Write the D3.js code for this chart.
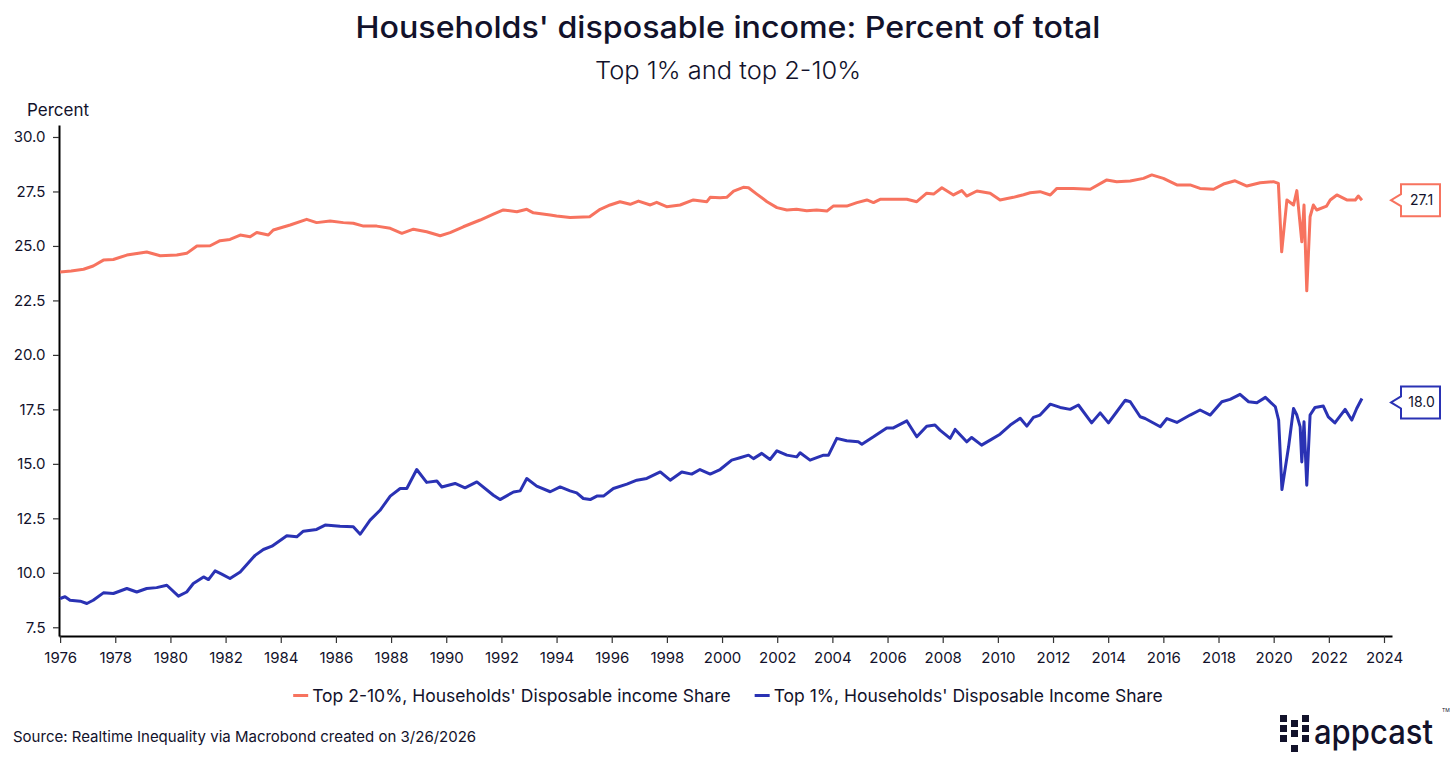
<!DOCTYPE html>
<html>
<head>
<meta charset="utf-8">
<script src="https://cdn.jsdelivr.net/npm/d3@7"></script>
<style>
  body { margin: 0; background: #fff; }
  svg { display: block; font-family: Inter, "Noto Sans", sans-serif; }
</style>
</head>
<body>
<div id="chart"></div>
<script>
// Top 2-10% share (decimal year, percent)
var top10Years = [1976.0, 1976.4, 1976.85, 1977.2, 1977.57, 1977.93, 1978.42, 1979.14, 1979.63, 1980.23,
  1980.59, 1980.96, 1981.44, 1981.8, 1982.16, 1982.53, 1982.89, 1983.13, 1983.55, 1983.73,
  1984.34, 1984.94, 1985.3, 1985.79, 1986.27, 1986.63, 1987.0, 1987.48, 1987.97, 1988.39,
  1988.81, 1989.29, 1989.78, 1990.14, 1990.62, 1991.23, 1991.71, 1992.07, 1992.56, 1992.92,
  1993.16, 1993.77, 1994.0, 1994.49, 1995.2, 1995.58, 1995.94, 1996.3, 1996.67, 1996.97,
  1997.4, 1997.63, 1997.99, 1998.48, 1998.96, 1999.45, 1999.57, 1999.93, 2000.17, 2000.42,
  2000.77, 2000.96, 2001.26, 2001.63, 2001.99, 2002.35, 2002.7, 2003.07, 2003.43, 2003.8,
  2004.03, 2004.52, 2004.89, 2005.25, 2005.49, 2005.73, 2006.21, 2006.7, 2007.06, 2007.42,
  2007.67, 2007.97, 2008.39, 2008.69, 2008.87, 2009.24, 2009.72, 2010.08, 2010.56, 2010.93,
  2011.17, 2011.53, 2011.9, 2012.14, 2012.74, 2013.35, 2013.95, 2014.31, 2014.8, 2015.28,
  2015.58, 2016.0, 2016.49, 2016.97, 2017.33, 2017.82, 2018.18, 2018.6, 2019.03, 2019.51,
  2019.99, 2020.17, 2020.29, 2020.48, 2020.72, 2020.84, 2021.02, 2021.1, 2021.2, 2021.32,
  2021.44, 2021.56, 2021.92, 2022.05, 2022.29, 2022.65, 2022.96, 2023.07, 2023.2];
var top10Share = [23.8, 23.85, 23.93, 24.08, 24.35, 24.38, 24.58, 24.72, 24.55, 24.58,
  24.66, 25.0, 25.01, 25.24, 25.3, 25.5, 25.42, 25.62, 25.5, 25.73,
  25.96, 26.22, 26.07, 26.14, 26.07, 26.04, 25.91, 25.91, 25.81, 25.58,
  25.77, 25.65, 25.47, 25.61, 25.88, 26.19, 26.46, 26.65, 26.57, 26.68,
  26.52, 26.42, 26.37, 26.3, 26.34, 26.68, 26.88, 27.03, 26.91, 27.06,
  26.88, 27.0, 26.8, 26.88, 27.11, 27.03, 27.23, 27.21, 27.23, 27.52,
  27.69, 27.67, 27.38, 27.03, 26.76, 26.65, 26.68, 26.62, 26.65, 26.6,
  26.83, 26.83, 26.99, 27.11, 26.99, 27.14, 27.14, 27.14, 27.03, 27.42,
  27.38, 27.67, 27.34, 27.54, 27.29, 27.52, 27.42, 27.11, 27.23, 27.35,
  27.44, 27.49, 27.34, 27.64, 27.64, 27.6, 28.03, 27.95, 27.98, 28.1,
  28.26, 28.1, 27.8, 27.8, 27.64, 27.6, 27.84, 27.99, 27.75, 27.9,
  27.95, 27.87, 24.73, 27.11, 26.88, 27.54, 25.19, 26.88, 22.94, 26.34,
  26.88, 26.65, 26.83, 27.11, 27.34, 27.11, 27.11, 27.29, 27.1];

// Top 1% share
var top1Years = [1976.0, 1976.18, 1976.36, 1976.73, 1976.97, 1977.2, 1977.57, 1977.93, 1978.42, 1978.78,
  1979.14, 1979.5, 1979.87, 1980.29, 1980.59, 1980.83, 1981.2, 1981.38, 1981.62, 1981.86,
  1982.16, 1982.53, 1983.07, 1983.37, 1983.68, 1984.22, 1984.58, 1984.82, 1985.3, 1985.61,
  1986.15, 1986.63, 1986.88, 1987.24, 1987.6, 1987.97, 1988.33, 1988.57, 1988.93, 1989.29,
  1989.66, 1989.84, 1990.32, 1990.68, 1991.11, 1991.71, 1991.95, 1992.44, 1992.68, 1992.92,
  1993.28, 1993.77, 1994.13, 1994.49, 1994.73, 1994.97, 1995.22, 1995.46, 1995.7, 1996.06,
  1996.55, 1996.91, 1997.27, 1997.76, 1998.12, 1998.54, 1998.9, 1999.2, 1999.57, 1999.93,
  2000.35, 2000.65, 2000.96, 2001.14, 2001.44, 2001.74, 2001.99, 2002.35, 2002.71, 2002.83,
  2003.19, 2003.68, 2003.86, 2004.16, 2004.52, 2004.94, 2005.07, 2005.49, 2005.97, 2006.21,
  2006.7, 2007.06, 2007.42, 2007.72, 2007.9, 2008.27, 2008.45, 2008.87, 2009.05, 2009.41,
  2009.72, 2010.08, 2010.45, 2010.81, 2011.05, 2011.29, 2011.53, 2011.9, 2012.26, 2012.62,
  2012.92, 2013.4, 2013.71, 2014.01, 2014.31, 2014.62, 2014.8, 2015.16, 2015.34, 2015.89,
  2016.13, 2016.49, 2016.97, 2017.33, 2017.7, 2018.12, 2018.42, 2018.78, 2019.09, 2019.39,
  2019.7, 2020.06, 2020.18, 2020.3, 2020.54, 2020.72, 2020.84, 2020.96, 2021.02, 2021.1,
  2021.2, 2021.32, 2021.5, 2021.8, 2021.98, 2022.22, 2022.59, 2022.83, 2023.01, 2023.2];
var top1Share = [8.82, 8.9, 8.74, 8.7, 8.59, 8.74, 9.08, 9.05, 9.28, 9.12,
  9.28, 9.32, 9.43, 8.93, 9.12, 9.51, 9.81, 9.69, 10.09, 9.94,
  9.74, 10.04, 10.8, 11.07, 11.22, 11.7, 11.65, 11.91, 11.99, 12.19,
  12.14, 12.11, 11.77, 12.42, 12.87, 13.52, 13.87, 13.87, 14.74, 14.15,
  14.21, 13.94, 14.1, 13.9, 14.17, 13.56, 13.36, 13.71, 13.76, 14.33,
  13.98, 13.72, 13.94, 13.76, 13.67, 13.41, 13.36, 13.52, 13.52, 13.87,
  14.07, 14.25, 14.33, 14.63, 14.25, 14.63, 14.53, 14.74, 14.53, 14.74,
  15.17, 15.28, 15.4, 15.24, 15.48, 15.2, 15.6, 15.4, 15.32, 15.51,
  15.17, 15.4, 15.4, 16.17, 16.06, 16.01, 15.9, 16.24, 16.65, 16.65,
  16.97, 16.24, 16.73, 16.78, 16.55, 16.17, 16.58, 16.01, 16.21, 15.86,
  16.09, 16.36, 16.78, 17.09, 16.73, 17.13, 17.24, 17.74, 17.59, 17.5,
  17.7, 16.88, 17.34, 16.88, 17.39, 17.92, 17.85, 17.16, 17.08, 16.7,
  17.08, 16.9, 17.24, 17.47, 17.24, 17.85, 17.96, 18.19, 17.85, 17.8,
  18.05, 17.62, 17.01, 13.82, 15.78, 17.54, 17.24, 16.7, 15.09, 16.93,
  14.02, 17.24, 17.59, 17.65, 17.16, 16.88, 17.5, 17.01, 17.54, 18.0];

var yearTicks = d3.range(1976, 2025, 2);
var percentTicks = d3.range(7.5, 30.01, 2.5);
var seriesNames = ["Top 2-10%, Households' Disposable income Share", "Top 1%, Households' Disposable Income Share"];
var seriesColors = ["#F7735F", "#2A32B4"];

var width = 1456, height = 761;
var ink = "#12122b";

var svg = d3.select("#chart").append("svg")
  .attr("width", width)
  .attr("height", height);

var x = d3.scaleLinear().domain([1975.96, 2024.29]).range([59, 1392]);
var y = d3.scaleLinear().domain([7.1, 30.55]).range([636, 125]);

// titles
svg.append("text")
  .attr("x", 728).attr("y", 38)
  .attr("text-anchor", "middle")
  .attr("textLength", 745).attr("lengthAdjust", "spacingAndGlyphs")
  .style("font-size", "30px").style("font-weight", 500)
  .style("fill", ink)
  .text("Households' disposable income: Percent of total");

svg.append("text")
  .attr("x", 728).attr("y", 79)
  .attr("text-anchor", "middle")
  .attr("textLength", 266).attr("lengthAdjust", "spacingAndGlyphs")
  .style("font-size", "24px").style("font-weight", 300)
  .style("fill", ink)
  .text("Top 1% and top 2-10%");

svg.append("text")
  .attr("x", 27).attr("y", 116)
  .style("font-size", "17px")
  .style("fill", ink)
  .text("Percent");

// axes
var xAxis = svg.append("g")
  .attr("transform", "translate(0,636)")
  .call(d3.axisBottom(x).tickValues(yearTicks).tickFormat(d3.format("d")).tickSize(7).tickSizeOuter(0));
var yAxis = svg.append("g")
  .attr("transform", "translate(59,0)")
  .call(d3.axisLeft(y).tickValues(percentTicks).tickFormat(d3.format(".1f")).tickSize(6).tickSizeOuter(0));

[xAxis, yAxis].forEach(function(a) {
  a.select(".domain").attr("stroke", "#000").attr("stroke-width", 2);
  a.selectAll(".tick line").attr("stroke", "#333").attr("stroke-width", 1.2);
  a.selectAll(".tick text")
    .style("font-family", "Inter, sans-serif")
    .style("font-size", "15px")
    .style("fill", ink);
});
xAxis.selectAll(".tick text").attr("dy", "1.15em");
yAxis.selectAll(".tick text").attr("dx", "-0.3em");

// lines
var line = d3.line()
  .x(function(d) { return x(d[0]); })
  .y(function(d) { return y(d[1]); });

var series = [
  d3.zip(top10Years, top10Share),
  d3.zip(top1Years, top1Share)
];

series.forEach(function(s, i) {
  svg.append("path")
    .datum(s)
    .attr("fill", "none")
    .attr("stroke", seriesColors[i])
    .attr("stroke-width", 3)
    .attr("stroke-linejoin", "round")
    .attr("d", line);

  // end value callout
  var last = s[s.length - 1];
  var cy = y(last[1]) + (i == 1 ? 4 : 0);
  var x0 = 1401, x1 = 1440, t = cy - 16, b = cy + 16;
  svg.append("path")
    .attr("d", "M" + x0 + "," + t + "L" + x1 + "," + t + "L" + x1 + "," + b + "L" + x0 + "," + b +
      "L" + x0 + "," + (cy + 6) + "L" + (x0 - 10) + "," + cy + "L" + x0 + "," + (cy - 6) + "Z")
    .attr("fill", "#fff")
    .attr("stroke", seriesColors[i])
    .attr("stroke-width", 2);
  svg.append("text")
    .attr("x", (x0 + x1) / 2 + 1).attr("y", cy + 5)
    .attr("text-anchor", "middle")
    .style("font-size", "14px")
    .style("fill", ink)
    .text(d3.format(".1f")(last[1]));
});

// legend, centred under the plot
var legend = svg.append("g");
var lx = 0;
seriesNames.forEach(function(name, i) {
  legend.append("rect")
    .attr("x", lx).attr("y", 694)
    .attr("width", 15).attr("height", 3)
    .attr("fill", seriesColors[i]);
  var t = legend.append("text")
    .attr("x", lx + 19).attr("y", 702)
    .style("font-size", "17.5px")
    .style("fill", ink)
    .text(name);
  lx += 19 + t.node().getComputedTextLength() + 24;
});
legend.attr("transform", "translate(" + (728 - (lx - 24) / 2) + ",0)");

// source
svg.append("text")
  .attr("x", 13).attr("y", 742)
  .style("font-size", "15px")
  .style("fill", ink)
  .text("Source: Realtime Inequality via Macrobond created on 3/26/2026");

// appcast logo
var logo = svg.append("g");
var squares = [[0, 0], [0, 10], [0, 20], [11, 5], [11, 15], [11, 30], [22, 0], [22, 10], [22, 20]];
logo.selectAll("rect")
  .data(squares)
  .enter()
  .append("rect")
  .attr("x", function(d) { return 1280 + d[0]; })
  .attr("y", function(d) { return 715 + d[1]; })
  .attr("width", 7).attr("height", 7)
  .attr("fill", ink);
logo.append("text")
  .attr("x", 1314).attr("y", 744)
  .attr("textLength", 119).attr("lengthAdjust", "spacingAndGlyphs")
  .style("font-size", "34px").style("font-weight", 500)
  .style("fill", ink)
  .text("appcast");
logo.append("text")
  .attr("x", 1442).attr("y", 712)
  .style("font-size", "5px")
  .style("fill", ink)
  .text("TM");
</script>
</body>
</html>
